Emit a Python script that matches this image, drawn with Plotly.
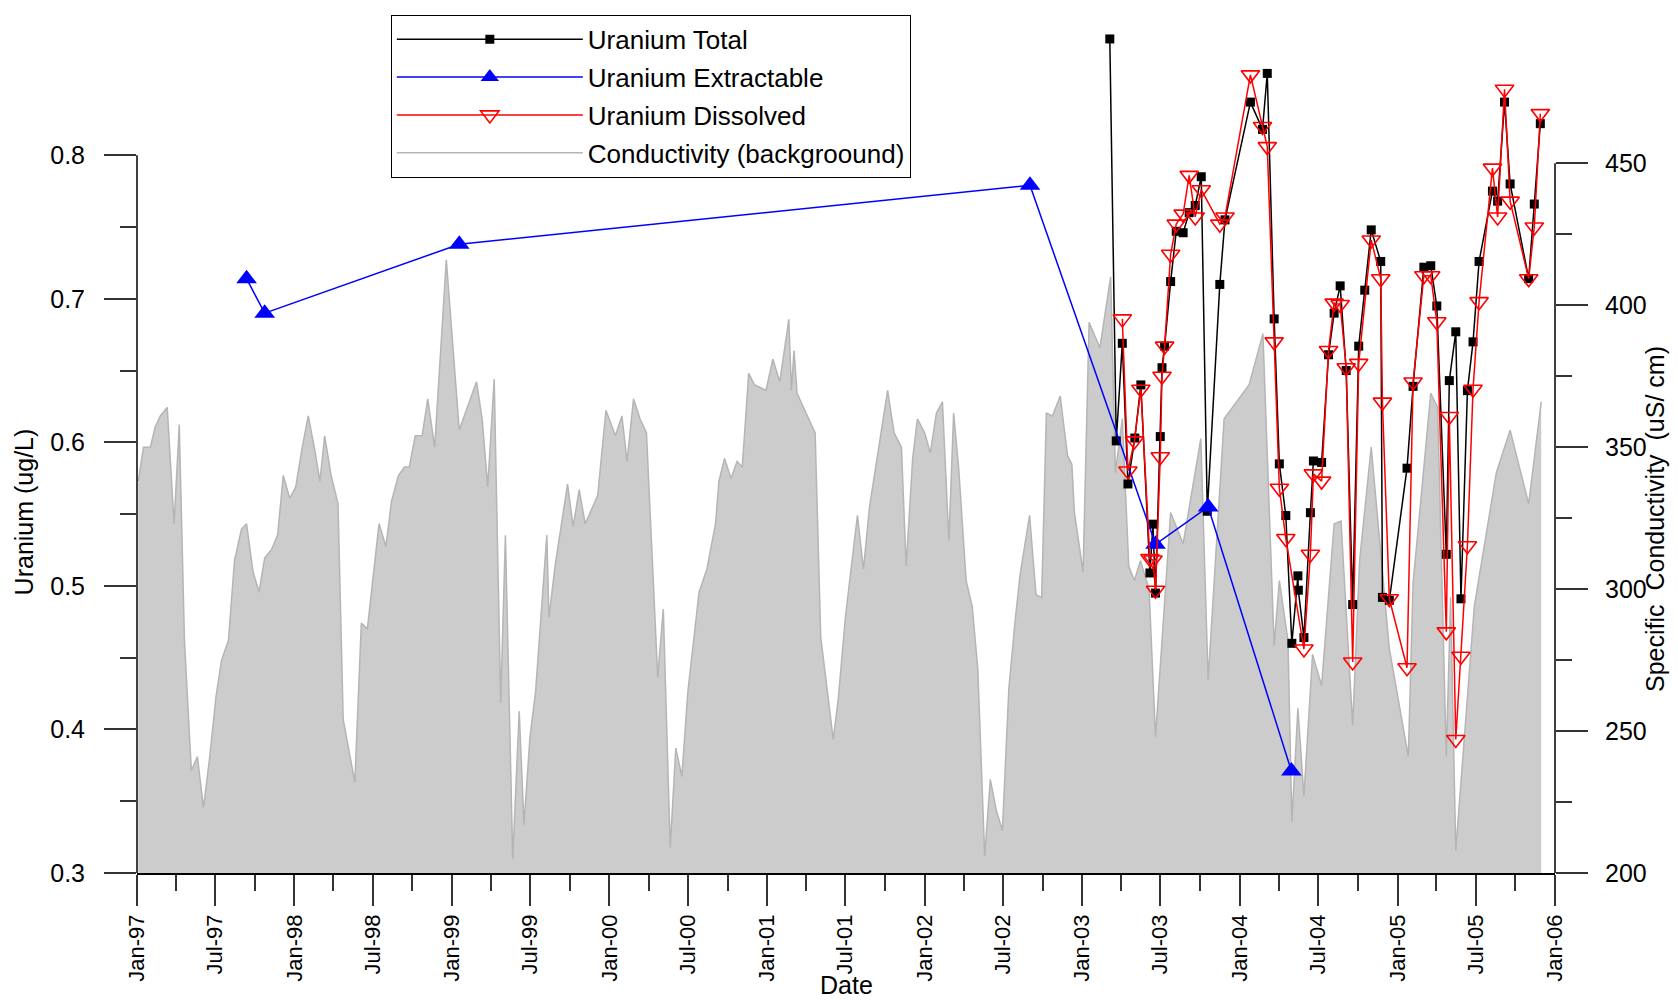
import plotly.graph_objects as go

# Specific conductivity (uS/cm) - grey background, right axis
cond_dates = [
    "1997-01-04", "1997-01-16", "1997-02-01", "1997-02-12", "1997-02-24", "1997-03-12", "1997-03-28",
    "1997-04-09", "1997-04-21", "1997-05-07", "1997-05-21", "1997-06-04", "1997-06-18", "1997-07-03",
    "1997-07-16", "1997-08-01", "1997-08-15", "1997-08-31", "1997-09-12", "1997-09-27", "1997-10-11",
    "1997-10-24", "1997-11-09", "1997-11-23", "1997-12-06", "1997-12-21", "1998-01-04", "1998-01-18",
    "1998-02-02", "1998-02-17", "1998-03-01", "1998-03-12", "1998-03-27", "1998-04-12", "1998-04-24",
    "1998-05-21", "1998-06-05", "1998-06-19", "1998-07-16", "1998-08-01", "1998-08-14", "1998-08-30",
    "1998-09-13", "1998-09-24", "1998-10-08", "1998-10-24", "1998-11-06", "1998-11-22", "1998-12-19",
    "1999-01-18", "1999-02-27", "1999-03-12", "1999-03-25", "1999-04-09", "1999-04-24", "1999-05-05",
    "1999-05-22", "1999-06-06", "1999-06-17", "1999-07-01", "1999-07-14", "1999-08-09", "1999-08-14",
    "1999-08-28", "1999-09-26", "1999-10-09", "1999-10-23", "1999-11-06", "1999-12-05", "1999-12-24",
    "2000-01-15", "2000-01-30", "2000-02-11", "2000-02-26", "2000-03-12", "2000-03-27", "2000-04-22",
    "2000-05-05", "2000-05-21", "2000-06-03", "2000-06-17", "2000-07-01", "2000-07-27", "2000-08-14",
    "2000-09-03", "2000-09-11", "2000-09-24", "2000-10-09", "2000-10-23", "2000-11-04", "2000-11-19",
    "2000-12-02", "2000-12-29", "2001-01-14", "2001-01-30", "2001-02-20", "2001-02-26", "2001-03-04",
    "2001-03-11", "2001-04-01", "2001-04-22", "2001-05-05", "2001-06-03", "2001-06-15", "2001-07-01",
    "2001-07-29", "2001-08-12", "2001-08-26", "2001-09-10", "2001-10-07", "2001-10-22", "2001-11-08",
    "2001-11-19", "2001-12-04", "2001-12-15", "2002-01-01", "2002-01-14", "2002-01-28", "2002-02-11",
    "2002-02-26", "2002-03-09", "2002-03-21", "2002-04-07", "2002-04-21", "2002-05-04", "2002-05-20",
    "2002-06-02", "2002-06-16", "2002-06-30", "2002-07-15", "2002-07-29", "2002-08-10", "2002-09-01",
    "2002-09-16", "2002-09-29", "2002-10-10", "2002-10-24", "2002-11-11", "2002-11-28", "2002-12-08",
    "2002-12-14", "2003-01-03", "2003-01-17", "2003-02-11", "2003-03-08", "2003-03-19", "2003-04-04",
    "2003-04-19", "2003-05-02", "2003-05-16", "2003-06-05", "2003-06-20", "2003-07-25", "2003-08-23",
    "2003-10-03", "2003-10-20", "2003-11-26", "2004-01-23", "2004-02-24", "2004-03-21", "2004-04-02",
    "2004-04-22", "2004-05-01", "2004-05-15", "2004-05-29", "2004-06-18", "2004-07-09", "2004-08-07",
    "2004-08-23", "2004-09-19", "2004-10-05", "2004-11-01", "2004-12-13", "2005-01-26", "2005-02-06",
    "2005-03-19", "2005-04-04", "2005-04-24", "2005-05-04", "2005-05-16", "2005-06-28", "2005-08-18",
    "2005-09-19", "2005-11-01", "2005-11-30",
]
cond_values = [
    338, 350, 350, 357, 361, 364, 323,
    358, 282, 236, 241, 223, 240, 262,
    275, 282, 310, 321, 323, 306, 299,
    311, 314, 319, 340, 332, 336, 349,
    361, 349, 338, 354, 340, 330, 254,
    232, 288, 286, 323, 315, 331, 340,
    343, 343, 354, 354, 367, 350, 416,
    356, 373, 360, 336, 374, 260, 319,
    205, 257, 217, 248, 264, 319, 290,
    308, 337, 322, 335, 323, 333, 363,
    354, 361, 345, 367, 360, 355, 269,
    293, 209, 244, 234, 264, 299, 307,
    323, 338, 346, 339, 345, 343, 376,
    372, 370, 381, 373, 395, 370, 384,
    369, 362, 355, 283, 247, 262, 290,
    326, 307, 329, 344, 370, 355, 350,
    308, 346, 360, 355, 348, 362, 366,
    317, 362, 342, 303, 294, 272, 206,
    233, 222, 215, 265, 288, 305, 326,
    298, 297, 362, 361, 368, 347, 344,
    327, 306, 394, 385, 410, 341, 360,
    308, 303, 310, 300, 248, 327, 316,
    353, 268, 360, 372, 390, 280, 303,
    282, 218, 258, 227, 277, 266, 323,
    324, 252, 310, 350, 279, 241, 302,
    369, 364, 241, 297, 208, 294, 341,
    356, 330, 366,
]

# Uranium (ug/L), left axis
total_dates = [
    "2003-03-06", "2003-03-21", "2003-04-04", "2003-04-17", "2003-05-03", "2003-05-17", "2003-06-07",
    "2003-06-14", "2003-06-20", "2003-07-01", "2003-07-05", "2003-07-11", "2003-07-25", "2003-08-07",
    "2003-08-23", "2003-09-06", "2003-09-20", "2003-10-04", "2003-10-18", "2003-11-16", "2003-11-28",
    "2004-01-26", "2004-02-23", "2004-03-05", "2004-03-21", "2004-04-02", "2004-04-17", "2004-05-01",
    "2004-05-15", "2004-05-16", "2004-05-29", "2004-06-13", "2004-06-20", "2004-07-09", "2004-07-25",
    "2004-08-07", "2004-08-21", "2004-09-04", "2004-09-19", "2004-10-03", "2004-10-17", "2004-11-01",
    "2004-11-23", "2004-11-27", "2004-12-13", "2005-01-23", "2005-02-06", "2005-03-03", "2005-03-19",
    "2005-04-02", "2005-04-24", "2005-05-01", "2005-05-16", "2005-05-28", "2005-06-12", "2005-06-25",
    "2005-07-09", "2005-08-09", "2005-08-21", "2005-09-06", "2005-09-19", "2005-11-01", "2005-11-14",
    "2005-11-28",
]
total_values = [
    0.881, 0.601, 0.669, 0.571, 0.603, 0.640, 0.509,
    0.543, 0.495, 0.604, 0.652, 0.667, 0.712, 0.747,
    0.746, 0.760, 0.765, 0.785, 0.552, 0.710, 0.755,
    0.837, 0.818, 0.857, 0.686, 0.585, 0.549, 0.460,
    0.507, 0.497, 0.464, 0.551, 0.587, 0.586, 0.661,
    0.690, 0.709, 0.650, 0.487, 0.667, 0.706, 0.748,
    0.726, 0.492, 0.490, 0.582, 0.639, 0.722, 0.723,
    0.695, 0.522, 0.643, 0.677, 0.491, 0.636, 0.670,
    0.726, 0.775, 0.768, 0.837, 0.780, 0.714, 0.766,
    0.822,
]

extract_dates = ["1997-09-12", "1997-10-24", "1999-01-18", "2002-09-02", "2003-06-20", "2003-10-20", "2004-04-30"]
extract_values = [0.714, 0.690, 0.738, 0.779, 0.529, 0.555, 0.371]

dissolved_dates = [
    "2003-04-04", "2003-04-17", "2003-05-02", "2003-05-17", "2003-06-07", "2003-06-14", "2003-06-20",
    "2003-07-01", "2003-07-05", "2003-07-11", "2003-07-25", "2003-08-07", "2003-08-23", "2003-09-06",
    "2003-09-20", "2003-10-04", "2003-11-16", "2003-11-28", "2004-01-26", "2004-02-23", "2004-03-05",
    "2004-03-21", "2004-04-02", "2004-04-17", "2004-05-29", "2004-06-13", "2004-06-20", "2004-07-09",
    "2004-07-25", "2004-08-07", "2004-08-21", "2004-09-04", "2004-09-19", "2004-10-03", "2004-11-01",
    "2004-11-23", "2004-11-27", "2004-12-13", "2005-01-23", "2005-02-06", "2005-03-03", "2005-03-19",
    "2005-04-02", "2005-04-24", "2005-05-01", "2005-05-16", "2005-05-28", "2005-06-12", "2005-06-25",
    "2005-07-09", "2005-08-09", "2005-08-21", "2005-09-06", "2005-09-19", "2005-11-01", "2005-11-14",
    "2005-11-28",
]
dissolved_values = [
    0.686, 0.580, 0.601, 0.637, 0.519, 0.518, 0.497,
    0.590, 0.646, 0.667, 0.731, 0.752, 0.759, 0.786,
    0.757, 0.776, 0.752, 0.757, 0.856, 0.820, 0.806,
    0.670, 0.568, 0.533, 0.456, 0.522, 0.578, 0.573,
    0.664, 0.697, 0.696, 0.652, 0.447, 0.655, 0.741,
    0.714, 0.628, 0.491, 0.443, 0.642, 0.716, 0.716,
    0.684, 0.468, 0.618, 0.393, 0.451, 0.528, 0.637,
    0.698, 0.791, 0.757, 0.846, 0.768, 0.714, 0.750,
    0.829,
]

# axis ticks
x_tick_dates = [
    "1997-01-01", "1997-07-01", "1998-01-01", "1998-07-01", "1999-01-01", "1999-07-01", "2000-01-01",
    "2000-07-01", "2001-01-01", "2001-07-01", "2002-01-01", "2002-07-01", "2003-01-01", "2003-07-01",
    "2004-01-01", "2004-07-01", "2005-01-01", "2005-07-01", "2006-01-01",
]
x_tick_labels = [
    "Jan-97", "Jul-97", "Jan-98", "Jul-98", "Jan-99", "Jul-99", "Jan-00",
    "Jul-00", "Jan-01", "Jul-01", "Jan-02", "Jul-02", "Jan-03", "Jul-03",
    "Jan-04", "Jul-04", "Jan-05", "Jul-05", "Jan-06",
]
u_ticks = [0.3, 0.4, 0.5, 0.6, 0.7, 0.8]
u_minor = [0.35, 0.45, 0.55, 0.65, 0.75]
c_ticks = [200, 250, 300, 350, 400, 450]
c_minor = [225, 275, 325, 375, 425]

FONT = "Arial, 'Liberation Sans', sans-serif"
TICKC = "#333333"

fig = go.Figure()

fig.add_trace(go.Scatter(
    x=cond_dates, y=cond_values, yaxis="y", mode="lines",
    fill="tozeroy", fillcolor="#cccccc",
    line=dict(color="#b5b5b5", width=1.5),
    showlegend=False, hoverinfo="skip",
))

fig.add_trace(go.Scatter(
    x=total_dates, y=total_values, yaxis="y2", mode="lines+markers",
    name="Uranium Total", legendgroup="a",
    line=dict(color="black", width=1.5),
    marker=dict(symbol="square", size=9, color="black"),
))
fig.add_trace(go.Scatter(
    x=extract_dates, y=extract_values, yaxis="y2", mode="lines+markers",
    name="Uranium Extractable", legendgroup="b",
    line=dict(color="#0000ff", width=1.5),
    marker=dict(symbol="triangle-up", size=18, color="#0000ff"),
))
fig.add_trace(go.Scatter(
    x=dissolved_dates, y=dissolved_values, yaxis="y2", mode="lines+markers",
    name="Uranium Dissolved", legendgroup="c",
    line=dict(color="#ff0000", width=1.5),
    marker=dict(symbol="triangle-down-open", size=16, color="#ff0000", line=dict(width=1.6)),
))
# legend entry for the background area (line only, as in the original)
fig.add_trace(go.Scatter(
    x=[None], y=[None], yaxis="y", mode="lines",
    name="Conductivity (backgroound)", legendgroup="d",
    line=dict(color="#b5b5b5", width=1.5),
))

# the page body has an 8px margin, so the figure is 16px smaller than the window
fig.update_layout(
    width=1662, height=992,
    margin=dict(l=129, r=115, t=12, b=127, autoexpand=False),
    plot_bgcolor="white", paper_bgcolor="white",
    font=dict(family=FONT, color="black"),
    showlegend=True,
    legend=dict(
        x=0.179, y=1.006, xanchor="left", yanchor="top",
        bordercolor="black", borderwidth=1, bgcolor="white",
        font=dict(size=26, family=FONT), tracegroupgap=1,
        itemwidth=186,
    ),
    xaxis=dict(
        type="date", range=["1997-01-01", "2006-01-01"], automargin=False,
        tickmode="array", tickvals=x_tick_dates, ticktext=x_tick_labels,
        tickangle=-90, tickfont=dict(size=22),
        ticks="outside", ticklen=31, tickwidth=1.5, tickcolor=TICKC,
        minor=dict(ticks="outside", ticklen=16, tickwidth=1.5, tickcolor=TICKC,
                   dtick="M3", tick0="1997-01-01"),
        showline=True, linecolor="black", linewidth=1.5,
        showgrid=False, zeroline=False,
    ),
    yaxis=dict(
        side="right", range=[200, 500.46], automargin=False,
        tickmode="array", tickvals=c_ticks, tickfont=dict(size=25),
        ticks="outside", ticklen=32, tickwidth=1.5, tickcolor=TICKC,
        ticklabelstandoff=12,
        minor=dict(ticks="outside", ticklen=16, tickwidth=1.5, tickcolor=TICKC,
                   tickmode="array", tickvals=c_minor),
        showline=False, showgrid=False, zeroline=False,
    ),
    yaxis2=dict(
        side="left", overlaying="y", range=[0.3, 0.8942], automargin=False,
        tickmode="array", tickvals=u_ticks, tickformat=".1f", tickfont=dict(size=25),
        ticks="outside", ticklen=32, tickwidth=1.5, tickcolor=TICKC,
        ticklabelstandoff=14,
        minor=dict(ticks="outside", ticklen=16, tickwidth=1.5, tickcolor=TICKC,
                   tickmode="array", tickvals=u_minor),
        showline=False, showgrid=False, zeroline=False,
    ),
    shapes=[
        dict(type="line", xref="paper", yref="y2", x0=0, x1=0, y0=u_ticks[0], y1=u_ticks[-1],
             line=dict(color="black", width=1.5), layer="above"),
        dict(type="line", xref="paper", yref="y", x0=1, x1=1, y0=c_ticks[0], y1=c_ticks[-1],
             line=dict(color="black", width=1.5), layer="above"),
    ],
    annotations=[
        dict(text="Date", xref="paper", yref="paper", x=0.5, y=-0.131,
             xanchor="center", yanchor="middle", showarrow=False, font=dict(size=25)),
        dict(text="Uranium (ug/L)", xref="paper", yref="paper", x=-0.080, y=0.4234,
             xanchor="center", yanchor="middle", textangle=-90, showarrow=False, font=dict(size=25)),
        dict(text="Specific  Conductivity  (uS/ cm)", xref="paper", yref="paper", x=1.0705, y=0.415,
             xanchor="center", yanchor="middle", textangle=-90, showarrow=False, font=dict(size=25)),
    ],
)

fig.write_html("out.html")
